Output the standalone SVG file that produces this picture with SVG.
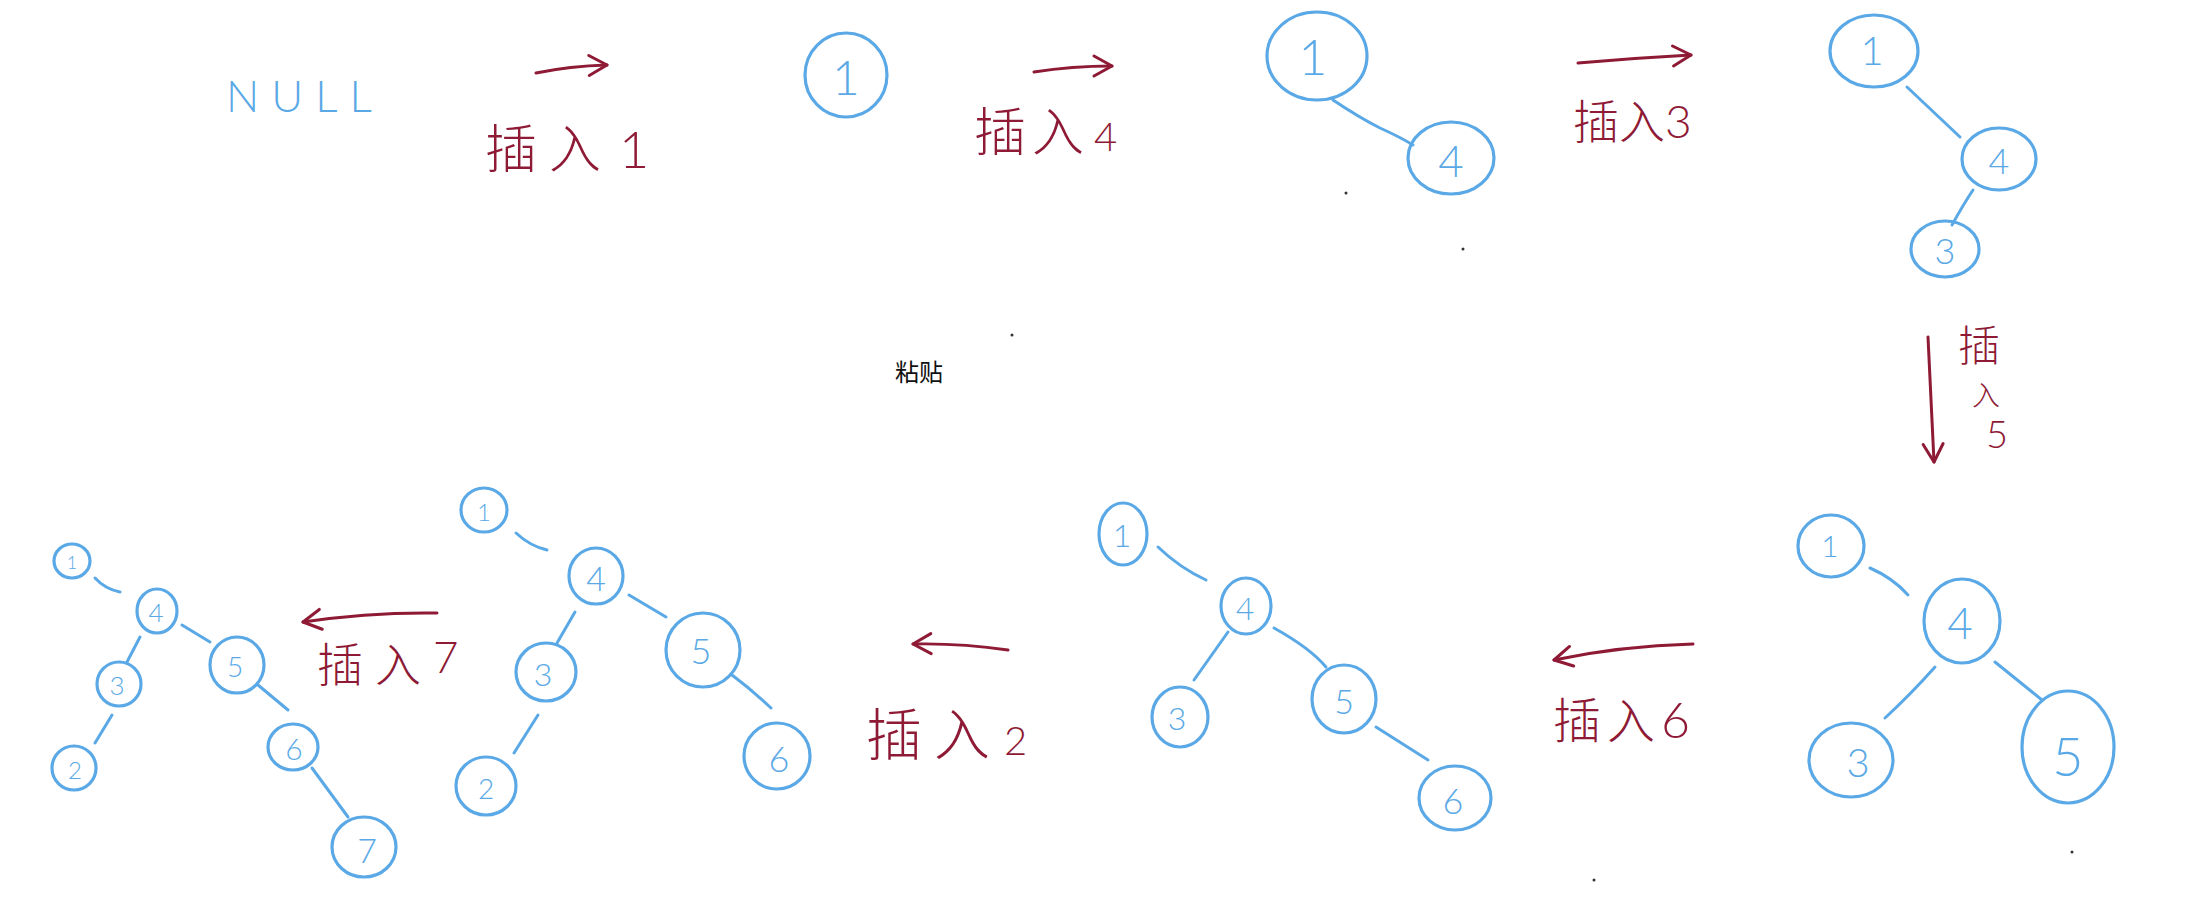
<svg xmlns="http://www.w3.org/2000/svg" width="2190" height="911" viewBox="0 0 2190 911">
<style>
.n{fill:none;stroke:#5aa9e6;stroke-width:3.2;stroke-linecap:round}
.d{fill:#5aa9e6;font-family:Lato,"Liberation Sans","DejaVu Sans",sans-serif;font-weight:300;text-anchor:middle;dominant-baseline:central}
.e{fill:none;stroke:#5aa9e6;stroke-width:3;stroke-linecap:round}
.a{fill:none;stroke:#8e1a35;stroke-width:3;stroke-linecap:round;stroke-linejoin:round}
.t{fill:#8e1a35;font-family:"Noto Sans CJK SC","Liberation Sans",sans-serif;font-weight:300}
.dg{font-family:Lato,"Liberation Sans",sans-serif;font-weight:300}
.dot{fill:#333}
</style>
<defs>
<marker id="ah" markerUnits="userSpaceOnUse" markerWidth="30" markerHeight="30" refX="20" refY="10" orient="auto" overflow="visible">
<path d="M2,0 L20,10 L2,20" fill="none" stroke="#8e1a35" stroke-width="3" stroke-linecap="round" stroke-linejoin="round"/>
</marker>
</defs>
<rect width="2190" height="911" fill="#ffffff"/>

<g id="connectors">
<g id="steps">
<path class="a" d="M536,73 Q570,66 607,65" marker-end="url(#ah)"/>
<path class="a" d="M1034,72 Q1072,66 1112,66" marker-end="url(#ah)"/>
<path class="a" d="M1578,63 Q1635,58 1691,55" marker-end="url(#ah)"/>
<path class="a" d="M1928,337 Q1931,400 1934,462" marker-end="url(#ah)"/>
<path class="a" d="M1693,644 Q1620,646 1554,660" marker-end="url(#ah)"/>
<path class="a" d="M1008,650 Q960,643 913,644" marker-end="url(#ah)"/>
<path class="a" d="M437,613 Q370,612 303,622" marker-end="url(#ah)"/>
</g>
<g id="edges">
<path class="e" d="M1333,100 Q1360,118 1380,128 Q1400,137 1413,145"/>
<path class="e" d="M1907,87 L1960,137"/>
<path class="e" d="M1973,190 Q1963,205 1952,225"/>
<path class="e" d="M1870,568 Q1893,578 1908,595"/>
<path class="e" d="M1935,667 Q1910,695 1885,718"/>
<path class="e" d="M1995,662 L2042,700"/>
<path class="e" d="M1158,547 Q1180,568 1206,580"/>
<path class="e" d="M1228,632 L1194,680"/>
<path class="e" d="M1274,628 Q1310,648 1326,667"/>
<path class="e" d="M1376,727 L1428,760"/>
<path class="e" d="M516,533 Q530,546 547,550"/>
<path class="e" d="M575,612 L557,643"/>
<path class="e" d="M538,715 L514,753"/>
<path class="e" d="M629,595 L666,617"/>
<path class="e" d="M732,675 Q752,690 771,708"/>
<path class="e" d="M95,578 Q105,589 120,592"/>
<path class="e" d="M140,637 L127,662"/>
<path class="e" d="M112,715 L95,743"/>
<path class="e" d="M182,625 L210,642"/>
<path class="e" d="M258,685 L288,710"/>
<path class="e" d="M312,768 L348,817"/>
</g>
</g>

<text id="null" x="226" y="112" fill="#5aa9e6" font-family="Lato, Liberation Sans, sans-serif" font-weight="300" font-size="44" letter-spacing="12">NULL</text>

<g id="labels">
<text class="t" x="485" y="168" font-size="52" letter-spacing="12">插入<tspan class="dg" dx="6">1</tspan></text>
<text class="t" x="974" y="151" font-size="52" letter-spacing="6">插入<tspan class="dg" font-size="40" dx="4">4</tspan></text>
<text class="t" x="1573" y="138" font-size="46">插入<tspan class="dg" font-size="46">3</tspan></text>
<text class="t" x="1958" y="361" font-size="42">插</text>
<text class="t" x="1972" y="406" font-size="28">入</text>
<text class="t dg" x="1986" y="448" font-size="38">5</text>
<text class="t" x="1553" y="738" font-size="48" letter-spacing="6">插入<tspan class="dg" font-size="50">6</tspan></text>
<text class="t" x="866" y="755" font-size="56" letter-spacing="12">插入<tspan class="dg" font-size="40" dx="2">2</tspan></text>
<text class="t" x="317" y="681" font-size="46" letter-spacing="12">插入<tspan class="dg" font-size="44" dy="-8">7</tspan></text>
<text x="895" y="381" font-family="Noto Sans CJK SC, sans-serif" font-size="24" fill="#111">粘贴</text>
</g>

<g id="s1-n1"><ellipse class="n" cx="846" cy="75" rx="41" ry="42"/><text class="d" x="846" y="76" font-size="48">1</text></g>

<g id="s2-n1"><ellipse class="n" cx="1317" cy="56" rx="50" ry="44"/><text class="d" x="1313" y="56" font-size="50">1</text></g>
<g id="s2-n4"><ellipse class="n" cx="1451" cy="158" rx="43" ry="36"/><text class="d" x="1451" y="160" font-size="44">4</text></g>

<g id="s3-n1"><ellipse class="n" cx="1874" cy="51" rx="44" ry="36"/><text class="d" x="1872" y="50" font-size="40">1</text></g>
<g id="s3-n4"><ellipse class="n" cx="1999" cy="159" rx="37" ry="31"/><text class="d" x="1999" y="160" font-size="36">4</text></g>
<g id="s3-n3"><ellipse class="n" cx="1945" cy="249" rx="34" ry="28"/><text class="d" x="1945" y="250" font-size="36">3</text></g>

<g id="s4-n1"><ellipse class="n" cx="1831" cy="546" rx="33" ry="31"/><text class="d" x="1830" y="545" font-size="30">1</text></g>
<g id="s4-n4"><ellipse class="n" cx="1962" cy="621" rx="38" ry="42"/><text class="d" x="1960" y="622" font-size="44">4</text></g>
<g id="s4-n3"><ellipse class="n" cx="1851" cy="760" rx="42" ry="37"/><text class="d" x="1858" y="762" font-size="40">3</text></g>
<g id="s4-n5"><ellipse class="n" cx="2068" cy="747" rx="46" ry="56"/><text class="d" x="2068" y="755" font-size="54">5</text></g>

<g id="s5-n1"><ellipse class="n" cx="1123" cy="534" rx="24" ry="31"/><text class="d" x="1122" y="534" font-size="32">1</text></g>
<g id="s5-n4"><ellipse class="n" cx="1246" cy="606" rx="25" ry="28"/><text class="d" x="1245" y="607" font-size="32">4</text></g>
<g id="s5-n3"><ellipse class="n" cx="1180" cy="717" rx="28" ry="30"/><text class="d" x="1177" y="717" font-size="32">3</text></g>
<g id="s5-n5"><ellipse class="n" cx="1344" cy="699" rx="32" ry="34"/><text class="d" x="1344" y="700" font-size="34">5</text></g>
<g id="s5-n6"><ellipse class="n" cx="1455" cy="798" rx="36" ry="32"/><text class="d" x="1453" y="800" font-size="36">6</text></g>

<g id="s6-n1"><ellipse class="n" cx="484" cy="510" rx="23" ry="22"/><text class="d" x="484" y="511" font-size="24">1</text></g>
<g id="s6-n4"><ellipse class="n" cx="596" cy="576" rx="27" ry="28"/><text class="d" x="596" y="577" font-size="34">4</text></g>
<g id="s6-n3"><ellipse class="n" cx="546" cy="672" rx="30" ry="29"/><text class="d" x="543" y="673" font-size="32">3</text></g>
<g id="s6-n2"><ellipse class="n" cx="486" cy="786" rx="30" ry="29"/><text class="d" x="486" y="788" font-size="28">2</text></g>
<g id="s6-n5"><ellipse class="n" cx="703" cy="650" rx="37" ry="37"/><text class="d" x="701" y="650" font-size="36">5</text></g>
<g id="s6-n6"><ellipse class="n" cx="777" cy="756" rx="33" ry="33"/><text class="d" x="779" y="758" font-size="36">6</text></g>

<g id="s7-n1"><ellipse class="n" cx="72" cy="561" rx="18" ry="17"/><text class="d" x="72" y="562" font-size="18">1</text></g>
<g id="s7-n4"><ellipse class="n" cx="157" cy="611" rx="20" ry="22"/><text class="d" x="156" y="612" font-size="26">4</text></g>
<g id="s7-n3"><ellipse class="n" cx="119" cy="684" rx="22" ry="22"/><text class="d" x="117" y="685" font-size="26">3</text></g>
<g id="s7-n2"><ellipse class="n" cx="74" cy="768" rx="22" ry="22"/><text class="d" x="75" y="769" font-size="24">2</text></g>
<g id="s7-n5"><ellipse class="n" cx="237" cy="665" rx="27" ry="28"/><text class="d" x="235" y="666" font-size="28">5</text></g>
<g id="s7-n6"><ellipse class="n" cx="293" cy="747" rx="25" ry="23"/><text class="d" x="294" y="748" font-size="30">6</text></g>
<g id="s7-n7"><ellipse class="n" cx="364" cy="847" rx="32" ry="30"/><text class="d" x="367" y="849" font-size="34">7</text></g>

<g id="specks">
<circle class="dot" cx="1346" cy="193" r="1.5"/>
<circle class="dot" cx="1463" cy="249" r="1.5"/>
<circle class="dot" cx="1012" cy="335" r="1.5"/>
<circle class="dot" cx="1594" cy="880" r="1.5"/>
<circle class="dot" cx="2072" cy="852" r="1.5"/>
</g>
</svg>
